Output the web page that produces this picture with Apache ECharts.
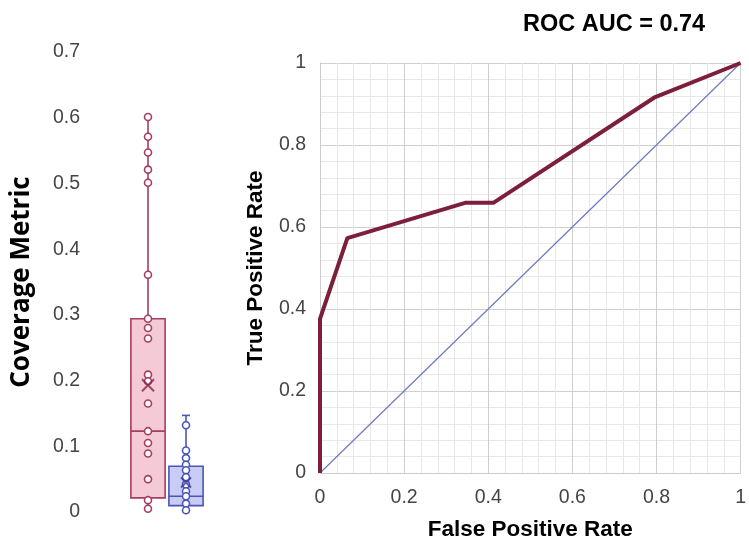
<!DOCTYPE html>
<html>
<head>
<meta charset="utf-8">
<style>html,body{margin:0;padding:0;background:#fff}#c{width:749px;height:546px}</style>
<script src="https://cdn.jsdelivr.net/npm/echarts@6/dist/echarts.min.js"></script>
</head>
<body>
<div id="c"></div>
<script>
// ---- data ----
var groups = ['Group A', 'Group B'];
// [min, Q1, median, Q3, max]
var pinkStats = [0.005, 0.0215, 0.123, 0.294, 0.601];
var blueStats = [0.0026, 0.0097, 0.024, 0.0696, 0.147];
var pinkMean = 0.193;
var blueMean = 0.045;
var pinkPoints = [0.601, 0.571, 0.547, 0.521, 0.501, 0.361, 0.294, 0.280, 0.264, 0.209, 0.199, 0.165, 0.123, 0.105, 0.089, 0.050, 0.018, 0.005];
var bluePoints = [0.132, 0.0935, 0.082, 0.072, 0.0635, 0.053, 0.042, 0.0315, 0.024, 0.0128, 0.0026];
var rocFPR = [0, 0, 0.065, 0.345, 0.412, 0.797, 1];
var rocTPR = [0, 0.376, 0.573, 0.659, 0.659, 0.917, 1];
var chanceFPR = [0, 1];
var chanceTPR = [0, 1];
var boxTicks = [0, 0.1, 0.2, 0.3, 0.4, 0.5, 0.6, 0.7];
var rocTicks = [0, 0.2, 0.4, 0.6, 0.8, 1];

var pinkLine = '#a63d60', pinkFill = '#f4cad7';
var blueLine = '#4b55b8', blueFill = '#c9cdf5';
var labelFont = 'Liberation Sans, Arial, sans-serif';
var tickColor = '#454545';

var chart = echarts.init(document.getElementById('c'));

function renderBox(params, api) {
  var cat = api.value(0);
  var mn = api.coord([cat, api.value(1)]);
  var q1 = api.coord([cat, api.value(2)]);
  var md = api.coord([cat, api.value(3)]);
  var q3 = api.coord([cat, api.value(4)]);
  var mx = api.coord([cat, api.value(5)]);
  var band = api.size([1, 0])[0];
  var hw = band * 0.45;
  var x = q1[0];
  var stroke = params.dataIndex === 0 ? pinkLine : blueLine;
  var fill = params.dataIndex === 0 ? pinkFill : blueFill;
  var ls = {stroke: stroke, lineWidth: 1.6, fill: null};
  return {
    type: 'group',
    children: [
      {type: 'line', shape: {x1: x, y1: q3[1], x2: x, y2: mx[1]}, style: ls},
      {type: 'line', shape: {x1: x, y1: q1[1], x2: x, y2: mn[1]}, style: ls},
      {type: 'line', shape: {x1: x - 4, y1: mx[1], x2: x + 4, y2: mx[1]}, style: ls},
      {type: 'line', shape: {x1: x - 4, y1: mn[1], x2: x + 4, y2: mn[1]}, style: ls},
      {type: 'rect', shape: {x: x - hw, y: q3[1], width: hw * 2, height: q1[1] - q3[1]},
        style: {fill: fill, stroke: stroke, lineWidth: 1.6}},
      {type: 'line', shape: {x1: x - hw, y1: md[1], x2: x + hw, y2: md[1]}, style: ls}
    ]
  };
}

var xMark = 'path://M0,0L10,10M10,0L0,10';

var option = {
  animation: false,
  backgroundColor: '#fff',
  title: {
    text: 'ROC AUC = 0.74',
    left: 518, top: 8,
    textStyle: {fontFamily: labelFont, fontWeight: 'bold', fontSize: 23.5, color: '#000'}
  },
  grid: [
    {left: 129, width: 76, top: 52, height: 460},
    {left: 320, width: 422, top: 63, height: 415}
  ],
  xAxis: [
    {
      gridIndex: 0, type: 'category', data: groups,
      axisLine: {show: false}, axisTick: {show: false}, axisLabel: {show: false}
    },
    {
      gridIndex: 1, type: 'value', min: 0, max: 1, interval: 0.2,
      name: 'False Positive Rate', nameLocation: 'middle', nameGap: 45,
      nameTextStyle: {fontFamily: labelFont, fontWeight: 'bold', fontSize: 22.5, color: '#000'},
      axisLine: {show: true, lineStyle: {color: '#cccccc', width: 1}},
      axisTick: {show: false},
      minorTick: {show: false, splitNumber: 5},
      minorSplitLine: {show: true, lineStyle: {color: '#e8e8e8', width: 1}},
      splitLine: {show: true, lineStyle: {color: '#cfcfcf', width: 1}},
      axisLabel: {fontFamily: labelFont, fontSize: 19.5, color: tickColor, margin: 15,
        formatter: function (v) { return String(+v.toFixed(2)); }}
    }
  ],
  yAxis: [
    {
      gridIndex: 0, type: 'value', min: 0, max: 0.7, interval: 0.1,
      name: 'Coverage Metric', nameLocation: 'middle', nameGap: 94,
      nameTextStyle: {fontFamily: 'Open Sans, sans-serif', fontWeight: 'bold', fontSize: 26, color: '#000'},
      axisLine: {show: false}, axisTick: {show: false}, splitLine: {show: false},
      axisLabel: {fontFamily: labelFont, fontSize: 19.5, color: tickColor, margin: 49,
        formatter: function (v) { return String(+v.toFixed(2)); }}
    },
    {
      gridIndex: 1, type: 'value', min: 0, max: 1, interval: 0.2,
      name: 'True Positive Rate', nameLocation: 'middle', nameGap: 53,
      nameTextStyle: {fontFamily: labelFont, fontWeight: 'bold', fontSize: 22.5, color: '#000'},
      axisLine: {show: true, lineStyle: {color: '#cccccc', width: 1}},
      axisTick: {show: false},
      minorTick: {show: false, splitNumber: 5},
      minorSplitLine: {show: true, lineStyle: {color: '#e8e8e8', width: 1}},
      splitLine: {show: true, lineStyle: {color: '#cfcfcf', width: 1}},
      axisLabel: {fontFamily: labelFont, fontSize: 19.5, color: tickColor, margin: 14,
        formatter: function (v) { return String(+v.toFixed(2)); }}
    }
  ],
  series: [
    {
      type: 'custom', xAxisIndex: 0, yAxisIndex: 0,
      renderItem: renderBox,
      encode: {x: 0, y: [1, 2, 3, 4, 5]},
      data: [[0].concat(pinkStats), [1].concat(blueStats)],
      z: 2
    },
    {
      type: 'scatter', xAxisIndex: 0, yAxisIndex: 0,
      data: pinkPoints.map(function (v) { return [0, v]; }),
      symbol: 'circle', symbolSize: 7,
      itemStyle: {color: '#fff', borderColor: pinkLine, borderWidth: 1.6, opacity: 1},
      z: 3
    },
    {
      type: 'scatter', xAxisIndex: 0, yAxisIndex: 0,
      data: bluePoints.map(function (v) { return [1, v]; }),
      symbol: 'circle', symbolSize: 7,
      itemStyle: {color: '#fff', borderColor: blueLine, borderWidth: 1.6, opacity: 1},
      z: 3
    },
    {
      type: 'scatter', xAxisIndex: 0, yAxisIndex: 0,
      data: [[0, pinkMean]],
      symbol: xMark, symbolSize: 12,
      itemStyle: {color: 'none', borderColor: '#8a2447', borderWidth: 2},
      z: 4
    },
    {
      type: 'scatter', xAxisIndex: 0, yAxisIndex: 0,
      data: [[1, blueMean]],
      symbol: xMark, symbolSize: 10,
      itemStyle: {color: 'none', borderColor: '#333a99', borderWidth: 2},
      z: 4
    },
    {
      type: 'line', xAxisIndex: 1, yAxisIndex: 1,
      data: chanceFPR.map(function (v, i) { return [v, chanceTPR[i]]; }),
      showSymbol: false, symbol: 'none',
      lineStyle: {color: '#7078c0', width: 1.2},
      z: 3
    },
    {
      type: 'line', xAxisIndex: 1, yAxisIndex: 1,
      data: rocFPR.map(function (v, i) { return [v, rocTPR[i]]; }),
      showSymbol: false, symbol: 'none',
      lineStyle: {color: '#7b1f3a', width: 4, join: 'round'},
      z: 4
    }
  ]
};
chart.setOption(option);
</script>
</body>
</html>
